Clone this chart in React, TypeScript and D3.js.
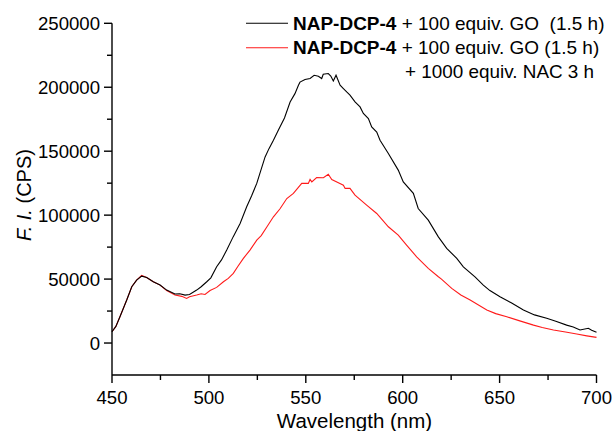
import React from "react";
import * as d3 from "d3";

const wlBlack = [450, 452, 454.1, 457.6, 460.2, 462.7, 465.3, 467.9, 471.3, 474.8, 478.2, 482.5, 485, 487.7, 490, 493.7, 496, 498.9, 501, 504, 506.5, 509.2, 512.5, 516.1, 519.5, 522, 524.7, 527, 529, 531, 533.3, 536, 539, 541.9, 544.4, 546.2, 547, 549.6, 552.2, 554.3, 556.5, 558.2, 559, 561.6, 562.9, 564.2, 565.6, 567.7, 569.4, 571.1, 572.8, 575.4, 578, 579.7, 582.3, 584, 586.6, 588.3, 592.6, 597.7, 600.3, 605.5, 608, 613.2, 618.4, 622.7, 627.9, 631.3, 637.3, 641.6, 645, 650.2, 656, 662.3, 668, 674.3, 679, 684.6, 688, 691.5, 695.8, 697.5, 700];
const fiBlack = [8800, 13000, 20500, 33600, 44000, 49200, 52300, 51300, 47900, 45300, 41400, 38300, 38500, 37500, 38000, 41400, 44000, 47900, 51000, 59600, 65000, 72700, 83000, 93500, 106500, 115000, 124800, 136000, 145500, 152000, 158600, 167000, 176000, 188500, 195000, 201600, 204000, 206000, 206800, 209400, 208600, 206800, 210200, 210700, 208800, 204900, 209400, 201600, 199000, 196300, 193800, 188500, 184600, 179500, 175500, 169000, 165000, 158600, 148200, 135200, 126000, 117000, 105200, 96100, 83000, 74000, 66200, 59600, 51800, 45300, 41000, 36200, 31500, 25800, 22000, 19300, 17000, 14000, 12500, 10200, 11500, 10000, 8500];

const wlRed = [450, 452, 454.1, 457.6, 460.2, 462.7, 465.3, 467.9, 471.3, 474.8, 478.2, 482.5, 486, 488.5, 490, 493.7, 496, 498, 500.6, 504, 507.5, 510, 512.6, 515, 517.8, 521.2, 524.7, 527, 529.8, 533.3, 536.7, 540.2, 543.6, 547.9, 551.3, 552.2, 553.1, 555.6, 559.1, 561.6, 563.4, 566, 569.4, 570.3, 572.8, 575.4, 581.4, 586.6, 592.6, 597.7, 602, 607.2, 613.2, 618.4, 620, 625.3, 630, 634.8, 643.4, 648, 653.7, 660, 667.5, 672, 677.8, 684, 689.8, 695, 700];
const fiRed = [8800, 13000, 20500, 33600, 44000, 49200, 52800, 51300, 47900, 45300, 41000, 37500, 36500, 34900, 36200, 37500, 38500, 38000, 41000, 43500, 47900, 50500, 54500, 60000, 66200, 72700, 80500, 84000, 90500, 98700, 105000, 113000, 117000, 124800, 124800, 127900, 126000, 129400, 129200, 132000, 127900, 126000, 123400, 120900, 120900, 115600, 107800, 101300, 90900, 84400, 76600, 67400, 58400, 51800, 50000, 42700, 37500, 33600, 25800, 23000, 20500, 17500, 14000, 12200, 10200, 8600, 7000, 5600, 4400];

const xTicks = [450, 500, 550, 600, 650, 700];
const xMinor = [475, 525, 575, 625, 675];
const yTicks = [0, 50000, 100000, 150000, 200000, 250000];
const yMinor = [25000, 75000, 125000, 175000, 225000];

const legend1 = { bold: "NAP-DCP-4", rest: " + 100 equiv. GO  (1.5 h)" };
const legend2 = { bold: "NAP-DCP-4", rest: " + 100 equiv. GO (1.5 h)" };
const legend3 = "+ 1000 equiv. NAC 3 h";

const W = 613;
const H = 431;
const FONT = "'Liberation Sans', Arial, Helvetica, sans-serif";

export default function App() {
  const x = d3.scaleLinear().domain([450, 700]).range([112, 596.5]);
  const y = d3.scaleLinear().domain([-25000, 250000]).range([375, 23.3]);
  const line = d3
    .line<[number, number]>()
    .x((d) => x(d[0]))
    .y((d) => y(d[1]));
  const black = wlBlack.map((w, i) => [w, fiBlack[i]] as [number, number]);
  const red = wlRed.map((w, i) => [w, fiRed[i]] as [number, number]);
  const y0 = y.range()[0];
  const x0 = x.range()[0];

  return (
    <svg
      width={W}
      height={H}
      style={{ position: "absolute", left: 0, top: 0, background: "#fff" }}
      fontFamily={FONT}
    >
      <rect width={W} height={H} fill="#fff" />
      <path d={line(red) || ""} fill="none" stroke="#ff1a1a" strokeWidth={1.1} />
      <path d={line(black) || ""} fill="none" stroke="#000" strokeWidth={1.1} />

      {/* axes */}
      <line x1={x0} x2={x0} y1={y.range()[1]} y2={y0} stroke="#000" strokeWidth={1.4} />
      <line x1={x0} x2={x.range()[1]} y1={y0} y2={y0} stroke="#000" strokeWidth={1.4} />
      {yTicks.map((t) => (
        <g key={"yt" + t}>
          <line x1={x0 - 8} x2={x0} y1={y(t)} y2={y(t)} stroke="#000" strokeWidth={1.4} />
          <text x={x0 - 12} y={y(t)} dy="0.36em" textAnchor="end" fontSize={18.6}>
            {t}
          </text>
        </g>
      ))}
      {yMinor.map((t) => (
        <line key={"ym" + t} x1={x0 - 5} x2={x0} y1={y(t)} y2={y(t)} stroke="#000" strokeWidth={1.4} />
      ))}
      {xTicks.map((t) => (
        <g key={"xt" + t}>
          <line x1={x(t)} x2={x(t)} y1={y0} y2={y0 + 8} stroke="#000" strokeWidth={1.4} />
          <text x={x(t)} y={y0 + 28.5} textAnchor="middle" fontSize={18.6}>
            {t}
          </text>
        </g>
      ))}
      {xMinor.map((t) => (
        <line key={"xm" + t} x1={x(t)} x2={x(t)} y1={y0} y2={y0 + 5} stroke="#000" strokeWidth={1.4} />
      ))}

      {/* axis titles */}
      <text x={354.5} y={428} textAnchor="middle" fontSize={20.5}>
        Wavelength (nm)
      </text>
      <text transform="translate(31,195) rotate(-90)" textAnchor="middle" fontSize={20}>
        <tspan fontStyle="italic">F. I.</tspan>
        <tspan> (CPS)</tspan>
      </text>

      {/* legend */}
      <line x1={246} x2={288} y1={23.3} y2={23.3} stroke="#000" strokeWidth={1.1} />
      <text transform="translate(293,29.5) scale(1.055,1)" fontSize={18}>
        <tspan fontWeight="bold">{legend1.bold}</tspan>
        <tspan style={{ whiteSpace: "pre" }}>{legend1.rest}</tspan>
      </text>
      <line x1={246} x2={288} y1={47.7} y2={47.7} stroke="#ff1a1a" strokeWidth={1.1} />
      <text transform="translate(293,54) scale(1.055,1)" fontSize={18}>
        <tspan fontWeight="bold">{legend2.bold}</tspan>
        <tspan style={{ whiteSpace: "pre" }}>{legend2.rest}</tspan>
      </text>
      <text transform="translate(405,78) scale(1.05,1)" fontSize={18}>
        {legend3}
      </text>
    </svg>
  );
}
